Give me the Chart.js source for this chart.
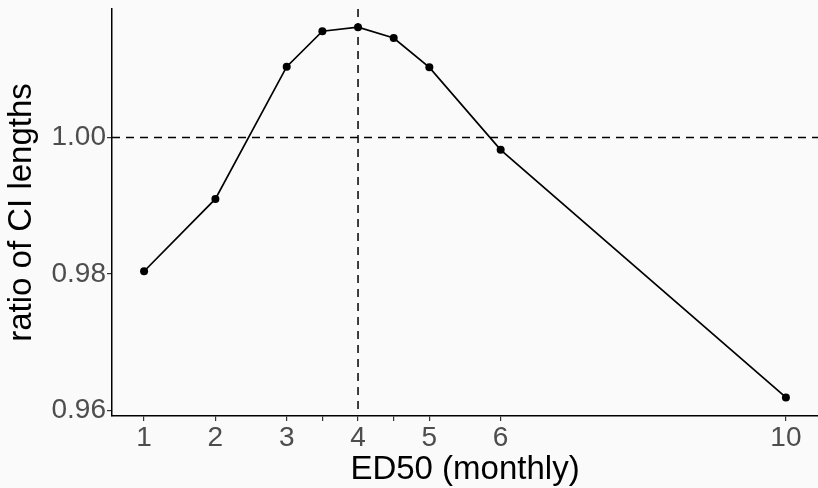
<!DOCTYPE html>
<html>
<head>
<meta charset="utf-8">
<script src="https://cdn.jsdelivr.net/npm/chart.js@4"></script>
<style>
  html, body { margin: 0; padding: 0; background: #fafafa; }
  #wrap { width: 818px; height: 488px; position: relative; }
</style>
</head>
<body>
<div id="wrap"><canvas id="chart"></canvas></div>
<script>
// ED50 values (x) and the CI length ratio
const ed50Values = [1, 2, 3, 3.5, 4, 4.5, 5, 6, 10];
const ratioValues = [0.9804, 0.9910, 1.0104, 1.0156, 1.0162, 1.0146, 1.0103, 0.9982, 0.9619];

const xTickValues = [1, 2, 3, 3.5, 4, 4.5, 5, 6, 10];
const yTickValues = [0.96, 0.98, 1.00];

// dashed reference lines
const refX = 4;
const refY = 1.0;

const refLinesPlugin = {
  id: "refLines",
  beforeDatasetsDraw(chart) {
    const { ctx, chartArea, scales } = chart;
    const px = scales.x.getPixelForValue(refX);
    const py = scales.y.getPixelForValue(refY);
    ctx.save();
    ctx.strokeStyle = "#000";
    ctx.lineWidth = 1.5;
    ctx.setLineDash([8, 6]);
    ctx.beginPath();
    ctx.moveTo(chartArea.left, py);
    ctx.lineTo(chartArea.right, py);
    ctx.moveTo(px, chartArea.top);
    ctx.lineTo(px, chartArea.bottom);
    ctx.stroke();
    ctx.restore();
  },
};

const tickFont = { family: "'Liberation Sans', Arial, sans-serif", size: 28 };
const titleFont = { family: "'Liberation Sans', Arial, sans-serif", size: 33 };

new Chart(document.getElementById("chart"), {
  type: "scatter",
  data: {
    datasets: [
      {
        data: ed50Values.map((x, i) => ({ x, y: ratioValues[i] })),
        showLine: true,
        borderColor: "#000",
        backgroundColor: "#000",
        borderWidth: 1.7,
        pointRadius: 4,
        pointBorderWidth: 0,
        tension: 0,
        clip: false,
      },
    ],
  },
  options: {
    responsive: true,
    maintainAspectRatio: false,
    animation: false,
    layout: { autoPadding: false, padding: { top: 9, right: 0, left: 0, bottom: 0 } },
    plugins: {
      legend: { display: false },
      tooltip: { enabled: false },
    },
    scales: {
      x: {
        type: "linear",
        min: 0.55,
        max: 10.45,
        afterBuildTicks(scale) {
          scale.ticks = xTickValues.map((value) => ({ value }));
        },
        afterFit(scale) {
          scale.height = 72;
          // let the plot run to the right edge like the original
          scale.paddingLeft = 0;
          scale.paddingRight = 0;
        },
        ticks: {
          autoSkip: false,
          maxRotation: 0,
          padding: 0,
          color: "#4d4d4d",
          font: tickFont,
          callback: (value) => (Number.isInteger(value) ? String(value) : ""),
        },
        grid: {
          drawOnChartArea: false,
          drawTicks: true,
          tickLength: 5,
          color: "#333",
          lineWidth: 1.2,
        },
        border: { color: "#000", width: 1.5 },
        title: {
          display: true,
          text: "ED50 (monthly)",
          color: "#000",
          font: titleFont,
          padding: { top: 0, bottom: -2 },
        },
      },
      y: {
        type: "linear",
        min: 0.95917,
        max: 1.01886,
        afterBuildTicks(scale) {
          scale.ticks = yTickValues.map((value) => ({ value }));
        },
        afterFit(scale) {
          scale.width = 112;
          scale.paddingTop = 0;
          scale.paddingBottom = 0;
        },
        ticks: {
          padding: 1,
          color: "#4d4d4d",
          font: tickFont,
          callback: (value) => value.toFixed(2),
        },
        grid: {
          drawOnChartArea: false,
          drawTicks: true,
          tickLength: 5,
          color: "#333",
          lineWidth: 1.2,
        },
        border: { color: "#000", width: 1.5 },
        title: {
          display: true,
          text: "ratio of CI lengths",
          color: "#000",
          font: titleFont,
          padding: { top: 2, bottom: 0 },
        },
      },
    },
  },
  plugins: [refLinesPlugin],
});
</script>
</body>
</html>
